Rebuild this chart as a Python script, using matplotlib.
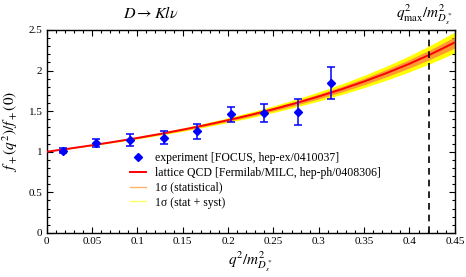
import matplotlib
matplotlib.use("Agg")
import matplotlib.pyplot as plt
from matplotlib.lines import Line2D
from matplotlib.ticker import MultipleLocator
import numpy as np

plt.rcParams['font.family'] = ['Liberation Serif', 'DejaVu Serif']
plt.rcParams['mathtext.fontset'] = 'stix'

# FOCUS data points (q^2/m^2_Ds*, f+(q^2)/f+(0), error)
exp_x = [0.018, 0.055, 0.092, 0.129, 0.166, 0.203, 0.240, 0.277, 0.314]
exp_y = [1.01, 1.11, 1.145, 1.175, 1.25, 1.46, 1.48, 1.49, 1.85]
exp_err = [0.03, 0.05, 0.07, 0.075, 0.09, 0.095, 0.11, 0.16, 0.195]

# lattice QCD curve and error bands (half widths)
lat_x = [0.0, 0.025, 0.05, 0.075, 0.1, 0.125, 0.15, 0.175, 0.2, 0.225,
         0.25, 0.275, 0.3, 0.325, 0.35, 0.375, 0.4, 0.425, 0.45]
lat_y = [1.000, 1.0386, 1.0796, 1.1232, 1.1696, 1.2190, 1.2719, 1.3284, 1.3889, 1.4539,
         1.5238, 1.5992, 1.6807, 1.7690, 1.8648, 1.9692, 2.0833, 2.2084, 2.3460]
stat_err = [0, .0013, .0028, .0044, .0062, .0081, .0103, .0127, .0154, .0184,
            .0218, .0255, .0297, .0343, .0396, .0454, .0521, .0596, .0681]
tot_err = [0, .0025, .0053, .0083, .0117, .0154, .0196, .0242, .0293, .0350,
           .0414, .0484, .0564, .0652, .0752, .0863, .0990, .1132, .1294]

q2max = 0.421

lx = np.array(lat_x)
ly = np.array(lat_y)
se = np.array(stat_err)
te = np.array(tot_err)

fig = plt.figure(figsize=(4.66, 2.77), dpi=100)
ax = fig.add_axes([0.100, 0.159, 0.876, 0.733])

ax.fill_between(lx, ly - te, ly + te, color='#ffff00', lw=0, zorder=1)
ax.fill_between(lx, ly - se, ly + se, color='#ff9933', lw=0, zorder=2)
ax.plot(lx, ly, color='#ff0000', lw=1.4, zorder=3)
ax.axvline(q2max, color='black', ls=(0, (4, 3)), lw=1.2, zorder=4)
ax.errorbar(exp_x, exp_y, yerr=exp_err, fmt='D', color='#0000ff', ms=4.2,
            elinewidth=1.1, capsize=3, capthick=1.1, zorder=5)

ax.set_xlim(0, 0.45)
ax.set_ylim(0, 2.5)
ax.xaxis.set_major_locator(MultipleLocator(0.05))
ax.xaxis.set_minor_locator(MultipleLocator(0.01))
ax.yaxis.set_major_locator(MultipleLocator(0.5))
ax.yaxis.set_minor_locator(MultipleLocator(0.1))
ax.xaxis.set_major_formatter(plt.FuncFormatter(lambda v, p: '%g' % round(v, 2)))
ax.yaxis.set_major_formatter(plt.FuncFormatter(lambda v, p: '%g' % round(v, 2)))
ax.tick_params(which='both', direction='in', top=True, right=True, labelsize=8, pad=3)
ax.tick_params(which='major', length=4, width=0.8)
ax.tick_params(which='minor', length=2.2, width=0.8)
for s in ax.spines.values():
    s.set_linewidth(1.0)

ax.set_xlabel(r'$q^2/m^2_{D_s^*}$', fontsize=11, labelpad=2)
ax.set_ylabel(r'$f_+(q^2)/f_+(0)$', fontsize=11, labelpad=6)

fig.text(0.324, 0.949, r'$D \rightarrow Kl\nu$', fontsize=11.5, ha='center', va='center')
fig.text(0.912, 0.946, r'$q^2_{\max}/m^2_{D_s^*}$', fontsize=11, ha='center', va='center')

handles = [
    Line2D([], [], ls='none', marker='D', color='#0000ff', ms=4.2),
    Line2D([], [], color='#ff0000', lw=1.4),
    Line2D([], [], color='#ffb366', lw=1.0),
    Line2D([], [], color='#ffff66', lw=1.0),
]
labels = ['experiment [FOCUS, hep-ex/0410037]',
          'lattice QCD [Fermilab/MILC, hep-ph/0408306]',
          '1\u03c3 (statistical)',
          '1\u03c3 (stat + syst)']
ax.legend(handles, labels, loc='upper left', bbox_to_anchor=(0.205, 0.40),
          frameon=False, fontsize=8.5, handlelength=1.3, handletextpad=0.8,
          labelspacing=0.25, borderpad=0, borderaxespad=0)

fig.savefig('out.png', dpi=100)
